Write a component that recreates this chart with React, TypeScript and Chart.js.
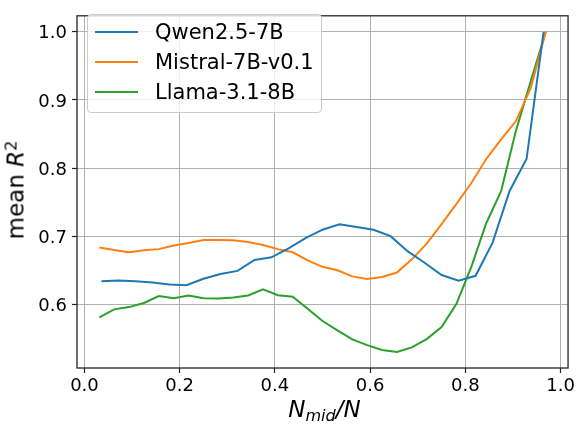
import { useEffect, useRef } from 'react';
import { Chart, registerables } from 'chart.js';
import type { Plugin } from 'chart.js';

Chart.register(...registerables);

// layer counts (N) of each model
const QWEN_N = 28;
const MISTRAL_N = 32;
const LLAMA_N = 32;

// N_mid layer indices
const qwenMid = [1, 2, 3, 4, 5, 6, 7, 8, 9, 10, 11, 12, 13, 14, 15, 16, 17, 18, 19, 20, 21, 22, 23, 24, 25, 26, 27];
const mistralMid = [1, 2, 3, 4, 5, 6, 7, 8, 9, 10, 11, 12, 13, 14, 15, 16, 17, 18, 19, 20, 21, 22, 23, 24, 25, 26, 27, 28, 29, 30, 31];
const llamaMid = [1, 2, 3, 4, 5, 6, 7, 8, 9, 10, 11, 12, 13, 14, 15, 16, 17, 18, 19, 20, 21, 22, 23, 24, 25, 26, 27, 28, 29, 30, 31];

// mean R^2
const qwenR2 = [0.634, 0.635, 0.634, 0.632, 0.629, 0.628, 0.6375, 0.6445, 0.649, 0.665, 0.669, 0.682, 0.697, 0.7095,
    0.7176, 0.7134, 0.7095, 0.700, 0.678, 0.661, 0.643, 0.6347, 0.6418, 0.6906, 0.7663, 0.8136, 1.0];
const mistralR2 = [0.6835, 0.6797, 0.6764, 0.6792, 0.681, 0.6863, 0.690, 0.6943, 0.6943, 0.694, 0.6915, 0.687, 0.681,
    0.6764, 0.6645, 0.655, 0.650, 0.641, 0.637, 0.640, 0.6466, 0.666, 0.689, 0.7176, 0.7474, 0.7781, 0.8132, 0.842,
    0.869, 0.918, 1.0];
const llamaR2 = [0.5807, 0.5926, 0.5959, 0.602, 0.612, 0.609, 0.613, 0.609, 0.6087, 0.610, 0.613, 0.622, 0.6134,
    0.611, 0.5935, 0.5755, 0.5618, 0.5485, 0.540, 0.533, 0.530, 0.5367, 0.549, 0.5665, 0.6006, 0.655, 0.719, 0.766,
    0.855, 0.928, 1.0];

const seriesNames = ['Qwen2.5-7B', 'Mistral-7B-v0.1', 'Llama-3.1-8B'];
const seriesColors = ['#1f77b4', '#ff7f0e', '#2ca02c'];

const xTicks = [0.0, 0.2, 0.4, 0.6, 0.8, 1.0];
const yTicks = [0.6, 0.7, 0.8, 0.9, 1.0];

const FONT = 'DejaVu Sans';

// matplotlib style 5% margins around the data
function paddedRange(values: number[]) {
    const lo = Math.min(...values);
    const hi = Math.max(...values);
    const m = (hi - lo) * 0.05;
    return { min: lo - m, max: hi + m };
}

// box around the plot area (spines)
const framePlugin: Plugin<'line'> = {
    id: 'frame',
    afterDatasetsDraw(chart) {
        const { ctx, chartArea } = chart;
        ctx.save();
        ctx.strokeStyle = '#262626';
        ctx.lineWidth = 1.3;
        ctx.strokeRect(chartArea.left, chartArea.top, chartArea.right - chartArea.left, chartArea.bottom - chartArea.top);
        ctx.restore();
    },
};

export default function App() {
    const canvasRef = useRef<HTMLCanvasElement | null>(null);
    const chartInstance = useRef<Chart<'line'> | null>(null);

    useEffect(() => {
        if (!canvasRef.current) return;

        const series = [
            { mids: qwenMid, n: QWEN_N, values: qwenR2 },
            { mids: mistralMid, n: MISTRAL_N, values: mistralR2 },
            { mids: llamaMid, n: LLAMA_N, values: llamaR2 },
        ];

        const allX = series.flatMap(s => s.mids.map(m => m / s.n));
        const allY = series.flatMap(s => s.values);
        const xRange = paddedRange(allX);
        const yRange = paddedRange(allY);

        chartInstance.current = new Chart(canvasRef.current, {
            type: 'line',
            data: {
                datasets: series.map((s, k) => ({
                    label: seriesNames[k],
                    data: s.mids.map((m, i) => ({ x: m / s.n, y: s.values[i] })),
                    borderColor: seriesColors[k],
                    backgroundColor: seriesColors[k],
                    borderWidth: 2,
                    pointRadius: 0,
                    tension: 0,
                    fill: false,
                })),
            },
            options: {
                animation: false,
                responsive: false,
                events: [],
                layout: { padding: { top: 4, right: 5, left: 0, bottom: 0 } },
                plugins: {
                    legend: { display: false },
                    tooltip: { enabled: false },
                },
                scales: {
                    x: {
                        type: 'linear',
                        min: xRange.min,
                        max: xRange.max,
                        afterBuildTicks: (scale) => { scale.ticks = xTicks.map(v => ({ value: v })); },
                        afterFit: (scale) => { scale.height = 58; },
                        grid: { color: '#b0b0b0', lineWidth: 1, tickColor: '#262626', tickLength: 5, tickWidth: 1.2 },
                        border: { display: false },
                        ticks: {
                            color: '#000',
                            font: { family: FONT, size: 18 },
                            padding: 3,
                            maxRotation: 0,
                            callback: (v) => Number(v).toFixed(1),
                        },
                    },
                    y: {
                        type: 'linear',
                        min: yRange.min,
                        max: yRange.max,
                        afterBuildTicks: (scale) => { scale.ticks = yTicks.map(v => ({ value: v })); },
                        afterFit: (scale) => { scale.width = 77; },
                        grid: { color: '#b0b0b0', lineWidth: 1, tickColor: '#262626', tickLength: 5, tickWidth: 1.2 },
                        border: { display: false },
                        ticks: {
                            color: '#000',
                            font: { family: FONT, size: 18 },
                            padding: 5,
                            labelOffset: 2,
                            callback: (v) => Number(v).toFixed(1),
                        },
                    },
                },
            },
            plugins: [framePlugin],
        });

        return () => {
            if (chartInstance.current) {
                chartInstance.current.destroy();
                chartInstance.current = null;
            }
        };
    }, []);

    const rowCenters = [31.5, 61.8, 92.2];

    return (
        <div style={{ position: 'absolute', left: 0, top: 0, width: 578, height: 426, background: '#fff', fontFamily: FONT, color: '#000' }}>
            <canvas ref={canvasRef} width={578} height={426} style={{ display: 'block' }}></canvas>

            {/* legend */}
            <div style={{
                position: 'absolute', left: 87, top: 14, width: 235, height: 99, boxSizing: 'border-box',
                border: '1px solid #cccccc', borderRadius: 4, background: 'rgba(255,255,255,0.8)',
            }}>
                {seriesNames.map((name, k) => (
                    <div key={name} style={{
                        position: 'absolute', left: 0, top: rowCenters[k] - 15 - 12, height: 24,
                        display: 'flex', alignItems: 'center', whiteSpace: 'nowrap',
                    }}>
                        <div style={{ marginLeft: 7, width: 43, height: 2, background: seriesColors[k] }}></div>
                        <span style={{ marginLeft: 17, fontSize: 21, lineHeight: '24px' }}>{name}</span>
                    </div>
                ))}
            </div>

            {/* y axis title */}
            <div style={{
                position: 'absolute', left: 17, top: 190, transform: 'translate(-50%, -50%) rotate(-90deg)',
                fontSize: 23, lineHeight: '23px', whiteSpace: 'nowrap',
            }}>
                mean <i>R</i><span style={{ fontSize: '0.7em', position: 'relative', top: '-0.45em' }}>2</span>
            </div>

            {/* x axis title */}
            <div style={{
                position: 'absolute', left: 324.5, top: 398, transform: 'translateX(-50%)',
                fontSize: 23, lineHeight: '23px', whiteSpace: 'nowrap', fontStyle: 'italic',
            }}>
                N<span style={{ fontSize: '0.7em', position: 'relative', top: '0.24em' }}>mid</span>/N
            </div>
        </div>
    );
}
